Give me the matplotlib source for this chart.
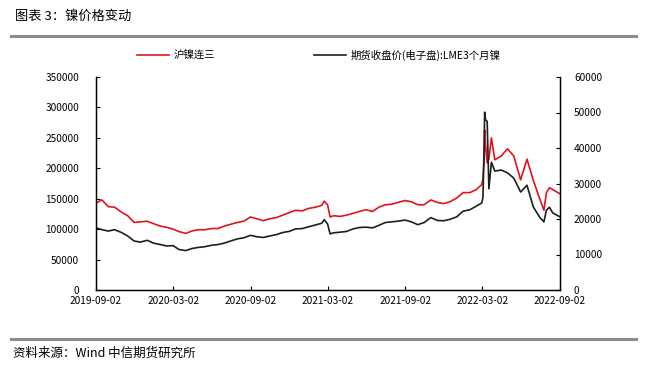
import matplotlib
matplotlib.use("Agg")
import matplotlib.pyplot as plt
import matplotlib.dates as mdates
from matplotlib.lines import Line2D
import pandas as pd

plt.rcParams['font.family'] = ['Noto Sans CJK SC', 'DejaVu Sans']

dates = [
    "2019-09-02", "2019-09-16", "2019-10-01", "2019-10-16", "2019-11-01", "2019-11-16",
    "2019-12-01", "2019-12-16", "2020-01-01", "2020-01-16", "2020-02-01", "2020-02-16",
    "2020-03-02", "2020-03-16", "2020-04-01", "2020-04-16", "2020-05-01", "2020-05-16",
    "2020-06-01", "2020-06-16", "2020-07-01", "2020-07-16", "2020-08-01", "2020-08-16",
    "2020-09-01", "2020-09-16", "2020-10-01", "2020-10-16", "2020-11-01", "2020-11-16",
    "2020-12-01", "2020-12-16", "2021-01-01", "2021-01-16", "2021-02-01", "2021-02-16",
    "2021-02-22", "2021-03-02", "2021-03-08", "2021-03-16", "2021-04-01", "2021-04-16",
    "2021-05-01", "2021-05-16", "2021-06-01", "2021-06-16", "2021-07-01", "2021-07-16",
    "2021-08-01", "2021-08-16", "2021-09-01", "2021-09-16", "2021-10-01", "2021-10-16",
    "2021-11-01", "2021-11-16", "2021-12-01", "2021-12-16", "2022-01-01", "2022-01-16",
    "2022-02-01", "2022-02-16", "2022-03-01", "2022-03-04", "2022-03-07", "2022-03-08",
    "2022-03-10", "2022-03-14", "2022-03-18", "2022-03-24", "2022-04-01", "2022-04-16",
    "2022-05-01", "2022-05-16", "2022-06-01", "2022-06-16", "2022-07-01", "2022-07-16",
    "2022-07-26", "2022-08-01", "2022-08-08", "2022-08-16", "2022-09-02",
]

shfe_nickel = [
    143000, 148000, 137000, 136000, 128000, 122000,
    111000, 112000, 113000, 109000, 105000, 103000,
    100000, 96000, 93000, 97000, 99000, 99000,
    101000, 101000, 105000, 108000, 111000, 113000,
    120000, 117000, 114000, 117000, 119000, 123000,
    127000, 131000, 130000, 134000, 136000, 139000,
    146000, 140000, 120000, 122000, 121000, 123000,
    126000, 129000, 132000, 129000, 136000, 140000,
    141000, 144000, 147000, 145000, 140000, 140000,
    148000, 144000, 142000, 145000, 151000, 160000,
    160000, 165000, 173000, 182000, 215000, 263000,
    240000, 209000, 215000, 250000, 214000, 220000,
    232000, 220000, 181000, 215000, 180000, 150000,
    131000, 160000, 168000, 165000, 158000,
]

lme_nickel = [
    17500, 17000, 16600, 17000, 16200, 15200,
    13800, 13500, 14000, 13200, 12800, 12400,
    12500, 11400, 11100, 11700, 12000, 12200,
    12600, 12800, 13200, 13800, 14400, 14700,
    15400, 15000, 14800, 15200, 15600, 16200,
    16500, 17200, 17300, 17800, 18300, 18800,
    19800, 18600, 15800, 16100, 16300, 16500,
    17200, 17600, 17700, 17500, 18200, 19000,
    19200, 19400, 19700, 19200, 18400, 19000,
    20400, 19600, 19500, 19900, 20600, 22200,
    22600, 23600, 24500, 26000, 42000, 50100,
    48000, 47500, 28500, 36000, 33500, 33800,
    33000, 31500, 27600, 29500, 23400, 20500,
    19200, 22500, 23300, 21700, 20600,
]

x_ticks = ["2019-09-02", "2020-03-02", "2020-09-02", "2021-03-02",
           "2021-09-02", "2022-03-02", "2022-09-02"]
left_ticks = [0, 50000, 100000, 150000, 200000, 250000, 300000, 350000]
right_ticks = [0, 10000, 20000, 30000, 40000, 50000, 60000]

label_shfe = "沪镍连三"
label_lme = "期货收盘价(电子盘):LME3个月镍"
title = "图表 3：镍价格变动"
source = "资料来源：Wind 中信期货研究所"

W, H = 647, 372
fig = plt.figure(figsize=(W / 100, H / 100), dpi=100)
ax = fig.add_axes([96 / W, 1 - 290 / H, (560 - 96) / W, (290 - 77) / H])
ax2 = ax.twinx()

d = pd.to_datetime(dates)
red = "#e0141e"
blk = "#1e1e1e"
l1, = ax.plot(d, shfe_nickel, color=red, lw=1.2)
l2, = ax2.plot(d, lme_nickel, color=blk, lw=1.2)

ax.set_xlim(pd.Timestamp(x_ticks[0]), pd.Timestamp(x_ticks[-1]))
ax.set_ylim(0, 350000)
ax2.set_ylim(0, 60000)
ax.set_xticks(pd.to_datetime(x_ticks))
ax.xaxis.set_major_formatter(mdates.DateFormatter("%Y-%m-%d"))
ax.set_yticks(left_ticks)
ax2.set_yticks(right_ticks)

for a in (ax, ax2):
    a.spines['top'].set_visible(False)
    for s in ('left', 'right', 'bottom'):
        a.spines[s].set_color('black')
        a.spines[s].set_linewidth(0.9)
    a.tick_params(direction='in', length=3, width=0.8, labelsize=7.3, colors='black')
ax.tick_params(axis='x', pad=4)
ax.tick_params(axis='y', pad=12)
ax2.tick_params(axis='y', pad=10)

fig.legend([l1, l2], [label_shfe, label_lme], ncol=2, frameon=False,
           loc='center left', bbox_to_anchor=(128 / W, 1 - 55 / H),
           fontsize=7.5, handlelength=3.0, handletextpad=0.5, columnspacing=9.5)

fig.text(15 / W, 1 - 16 / H, title, fontsize=9.5, va='center', ha='left')
fig.add_artist(Line2D([11 / W, 636 / W], [1 - 36 / H, 1 - 36 / H], color='#8c8c8c', lw=2.2))
fig.add_artist(Line2D([11 / W, 636 / W], [1 - 339 / H, 1 - 339 / H], color='#8c8c8c', lw=2.2))
fig.text(13 / W, 1 - 353 / H, source, fontsize=9, va='center', ha='left')

fig.savefig("out.png", dpi=100)
